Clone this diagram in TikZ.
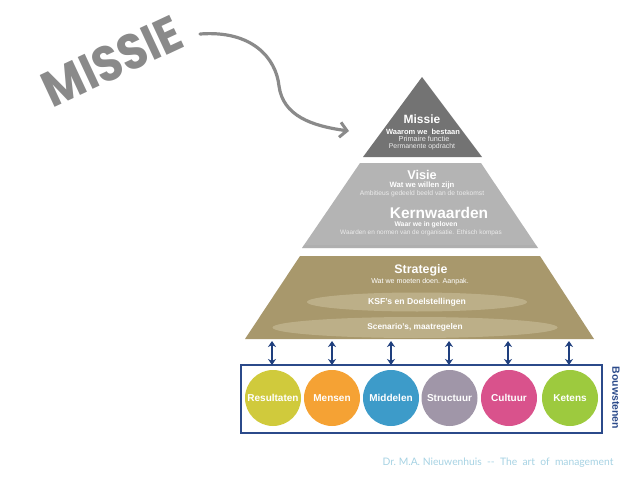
\documentclass[tikz,border=0pt]{standalone}
\usepackage{fontspec}
\setmainfont{Liberation Sans}
\newfontfamily\handfont{Poppins}
\newfontfamily\footfont{Lato}
\usetikzlibrary{arrows.meta,shapes.geometric}
\definecolor{missiegray}{HTML}{737373}
\definecolor{visiegray}{HTML}{B4B4B4}
\definecolor{strattan}{HTML}{A8986C}
\definecolor{ellipsetan}{HTML}{C4B792}
\definecolor{boxblue}{HTML}{2B4A8A}
\definecolor{arrowblue}{HTML}{1F3F7E}
\definecolor{cresult}{HTML}{D0CA3C}
\definecolor{cmensen}{HTML}{F5A234}
\definecolor{cmiddel}{HTML}{3D9BC9}
\definecolor{cstruct}{HTML}{A096A8}
\definecolor{ccultuur}{HTML}{D9528C}
\definecolor{cketens}{HTML}{9DCA3E}
\definecolor{footblue}{HTML}{A6D2E3}
\definecolor{handgray}{HTML}{8A8A8A}
\tikzset{
  title/.style={text=white,font=\bfseries\fontsize{12}{13}\selectfont,inner sep=0pt},
  sub/.style={text=white,font=\bfseries\fontsize{7.5}{8}\selectfont,inner sep=0pt},
  tiny/.style={text=white!92!black,font=\fontsize{6.7}{7}\selectfont,inner sep=0pt},
  ring/.style={circle,minimum size=56pt,inner sep=0pt,text=white,font=\bfseries\fontsize{10}{11}\selectfont},
  dbl/.style={arrowblue,line width=1.6pt,{Stealth[length=6pt,width=8pt]}-{Stealth[length=6pt,width=8pt]}},
  oval/.style={ellipse,fill=ellipsetan,fill opacity=0.75,text opacity=1,text=white,font=\bfseries\fontsize{8.3}{9}\selectfont,inner sep=0pt}
}
\begin{document}
\begin{tikzpicture}[x=1pt,y=-1pt]
\useasboundingbox (0,0) rectangle (638,479);
% handwritten title and curved arrow
\node[font=\handfont\bfseries,text=handgray,rotate=25,inner sep=0pt] (hand) at (112,61)
  {\scalebox{0.9}[1]{\fontsize{50}{50}\selectfont MISSIE}};
\coordinate (cstart) at (200,34);
\coordinate (cend) at (349,131);
\draw[handgray,line width=3.2pt,line cap=round,-{Straight Barb[length=7pt,width=15pt,line width=3pt]}]
  (cstart) .. controls (252,30) and (276,58) .. (279,86)
  .. controls (283,116) and (312,126) .. (cend);
% Missie triangle
\fill[missiegray] (422,77) -- (482,157) -- (363,157) -- cycle;
\node[title] (missie) at (422,119) {Missie};
\node[sub] (missie2) at (423,131.5) {Waarom we\ \ bestaan};
\node[tiny,font=\fontsize{7.3}{8}\selectfont] (missie3) at (424,139) {Primaire functie};
\node[tiny,font=\fontsize{6.9}{7}\selectfont] (missie4) at (422,146.5) {Permanente opdracht};
% Visie trapezoid
\fill[visiegray] (360,163) -- (481,163) -- (538,248) -- (302,248) -- cycle;
\fill[black!35,opacity=0.35] (304,245) -- (536,245) -- (538,248) -- (302,248) -- cycle;
\node[title,font=\bfseries\fontsize{12.7}{13}\selectfont] (visie) at (422,175) {Visie};
\node[sub,font=\bfseries\fontsize{7.7}{8}\selectfont] (visie2) at (422,185.5) {Wat we willen zijn};
\node[tiny] (visie3) at (422,194) {Ambitieus gedeeld beeld van de toekomst};
\node[title,font=\bfseries\fontsize{15.5}{16}\selectfont] (kern) at (439,213) {Kernwaarden};
\node[sub,font=\bfseries\fontsize{6.8}{7}\selectfont] (kern2) at (426,224.5) {Waar we in geloven};
\node[tiny,font=\fontsize{6.4}{7}\selectfont] (kern3) at (421,233) {Waarden en normen van de organisatie. Ethisch kompas};
% Strategie trapezoid
\fill[strattan] (300,256) -- (540,256) -- (594,339) -- (245,339) -- cycle;
\node[title,font=\bfseries\fontsize{12.4}{13}\selectfont] (strat) at (421,270) {Strategie};
\node[sub,font=\fontsize{7.1}{8}\selectfont] (strat2) at (420,282) {Wat we moeten doen. Aanpak.};
\node[oval,minimum width=220pt,minimum height=19pt,font=\bfseries\fontsize{8.6}{9}\selectfont] (ksf) at (417,302) {KSF's en Doelstellingen};
\node[oval,minimum width=285pt,minimum height=21pt] (scen) at (415,327.5) {Scenario's, maatregelen};
% Bouwstenen box
\draw[boxblue,line width=2pt] (240.5,365) rectangle (602,433);
\node[text=boxblue,font=\bfseries\fontsize{10.5}{11}\selectfont,rotate=-90,inner sep=0pt] (bouw) at (616,398) {Bouwstenen};
\node[ring,fill=cresult]  (c1) at (273,398) {Resultaten};
\node[ring,fill=cmensen]  (c2) at (332,398) {Mensen};
\node[ring,fill=cmiddel]  (c3) at (391,398) {Middelen};
\node[ring,fill=cstruct]  (c4) at (449.5,398) {Structuur};
\node[ring,fill=ccultuur] (c5) at (509,398) {Cultuur};
\node[ring,fill=cketens]  (c6) at (570,398) {Ketens};
% double arrows
\foreach \i/\x in {1/272,2/332,3/391,4/449,5/508,6/569}{
  \coordinate (t\i) at (\x,341);
  \coordinate (b\i) at (\x,365);
  \draw[dbl] (t\i) -- (b\i);
}
% footer
\node[text=footblue,font=\footfont\fontsize{10.3}{11}\selectfont,inner sep=0pt] (foot) at (498,463)
  {Dr.\ M.A.\ Nieuwenhuis\ \ --\ \ The\ \ art\ \ of\ \ management};
\end{tikzpicture}
\end{document}
